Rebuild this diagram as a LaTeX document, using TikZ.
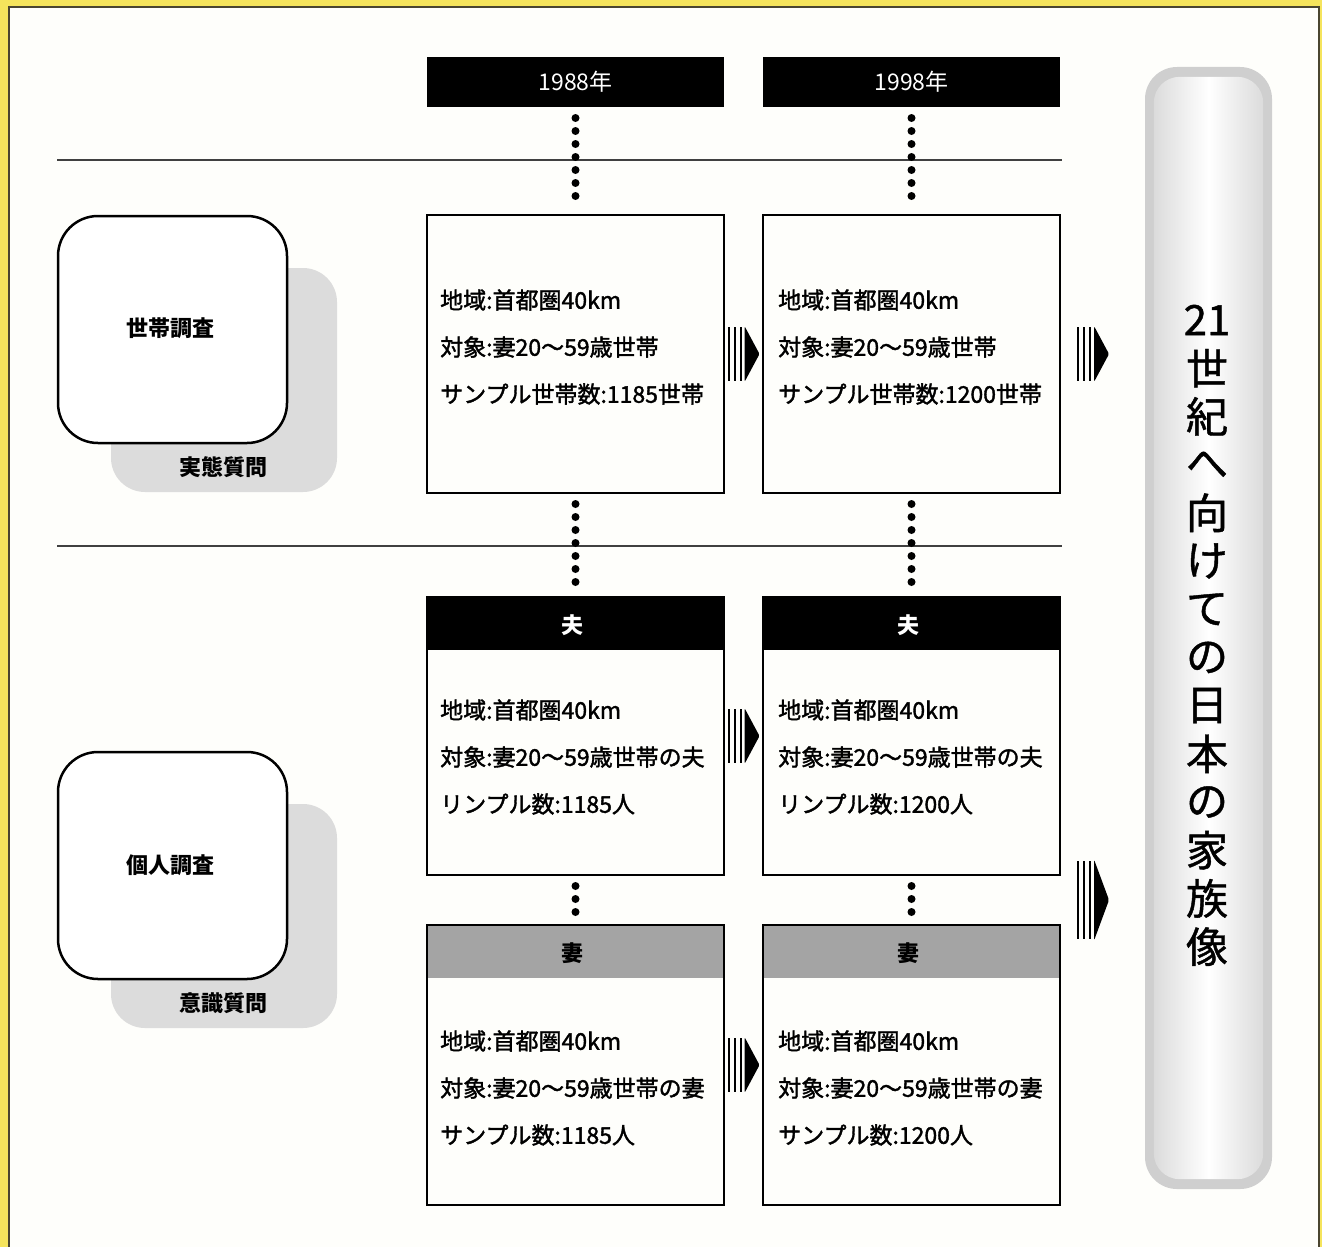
\documentclass[tikz,border=0pt]{standalone}
\usepackage{fontspec}
\setmainfont{Noto Sans CJK JP}
\newfontfamily\jpmid[FakeBold=1.6]{Noto Sans CJK JP}
\newfontfamily\jptitle[FakeBold=1.0]{Noto Sans CJK JP}
\usetikzlibrary{calc}
\definecolor{frameyellow}{HTML}{F5E45C}
\definecolor{framedark}{HTML}{4A4530}
\definecolor{paper}{HTML}{FEFEFB}
\definecolor{shadowgray}{HTML}{DCDCDC}
\definecolor{wifegray}{HTML}{A4A4A4}
\begin{document}
\begin{tikzpicture}[x=1pt,y=-1pt,
  databox/.style={draw=black, line width=2.5pt, minimum width=297pt, minimum height=278pt, inner sep=0pt, outer sep=0pt},
  yearbox/.style={fill=black, text=white, minimum width=297pt, minimum height=50pt, inner sep=0pt, outer sep=0pt, font=\fontsize{23}{27}\selectfont},
  bodytext/.style={anchor=west, align=left, inner sep=0pt, font=\fontsize{23}{47}\selectfont\jpmid},
  catbox/.style={draw=black, line width=2.5pt, fill=white, rounded corners=40pt, minimum width=229pt, minimum height=227pt, inner sep=0pt},
  shadowbox/.style={fill=shadowgray, rounded corners=34pt, minimum width=226pt, minimum height=224pt, inner sep=0pt},
  lbl/.style={inner sep=0pt, font=\fontsize{22}{26}\selectfont\bfseries},
  dotline/.style={line width=8pt, line cap=round, dash pattern=on 0pt off 13pt, shorten <=11pt, shorten >=11pt},
  rule/.style={line width=1.3pt, draw=black!75},
  titlechar/.style={inner sep=0pt, font=\fontsize{42}{46}\selectfont\jptitle},
  flowarrow/.pic={
    \foreach \xx in {-15,-9,-3} \fill (\xx-1,-27) rectangle (\xx+1,27);
    \fill[rounded corners=1.5pt] (1,-28) -- (16,0) -- (1,28) -- cycle;
  }
]
% frame and background
\useasboundingbox (0,0) rectangle (1322,1247);
\fill[frameyellow] (0,0) rectangle (1322,1247);
\draw[framedark, line width=2pt, fill=paper] (9,7) rectangle (1319,1262);

% horizontal rules
\draw[rule] (57,160) -- (1062,160);
\draw[rule] (57,546) -- (1062,546);

% year headers
\node[yearbox] (y1) at (575.5,82) {1988年};
\node[yearbox] (y2) at (911.5,82) {1998年};

% household survey boxes
\node[databox] (b1) at (575.5,354) {};
\node[databox] (b2) at (911.5,354) {};
\node[bodytext] (t1) at ($(b1.west)+(13,-7)$) {地域:首都圏40km\\対象:妻20〜59歳世帯\\サンプル世帯数:1185世帯};
\node[bodytext] (t2) at ($(b2.west)+(15,-7)$) {地域:首都圏40km\\対象:妻20〜59歳世帯\\サンプル世帯数:1200世帯};

% husband boxes
\node[databox] (h1) at (575.5,736) {};
\node[databox] (h2) at (911.5,736) {};
\fill[black] (h1.north west) rectangle ($(h1.north east)+(0,53)$);
\fill[black] (h2.north west) rectangle ($(h2.north east)+(0,53)$);
\node[lbl, text=white] (hl1) at ($(h1.north)+(-3,28)$) {夫};
\node[lbl, text=white] (hl2) at ($(h2.north)+(-3,28)$) {夫};
\node[bodytext] (th1) at ($(h1.west)+(13,21)$) {地域:首都圏40km\\対象:妻20〜59歳世帯の夫\\リンプル数:1185人};
\node[bodytext] (th2) at ($(h2.west)+(15,21)$) {地域:首都圏40km\\対象:妻20〜59歳世帯の夫\\リンプル数:1200人};

% wife boxes
\node[databox, minimum height=280pt] (w1) at (575.5,1065) {};
\node[databox, minimum height=280pt] (w2) at (911.5,1065) {};
\fill[wifegray] (w1.north west) rectangle ($(w1.north east)+(0,53)$);
\fill[wifegray] (w2.north west) rectangle ($(w2.north east)+(0,53)$);
\draw[line width=2.5pt] (w1.north west) rectangle (w1.south east);
\draw[line width=2.5pt] (w2.north west) rectangle (w2.south east);
\node[lbl] (wl1) at ($(w1.north)+(-3,28)$) {妻};
\node[lbl] (wl2) at ($(w2.north)+(-3,28)$) {妻};
\node[bodytext] (tw1) at ($(w1.west)+(13,23)$) {地域:首都圏40km\\対象:妻20〜59歳世帯の妻\\サンプル数:1185人};
\node[bodytext] (tw2) at ($(w2.west)+(15,23)$) {地域:首都圏40km\\対象:妻20〜59歳世帯の妻\\サンプル数:1200人};

% dotted connectors
\draw[dotline] (y1.south) -- (b1.north);
\draw[dotline] (y2.south) -- (b2.north);
\draw[dotline] (b1.south) -- (h1.north);
\draw[dotline] (b2.south) -- (h2.north);
\draw[dotline] (h1.south) -- (w1.north);
\draw[dotline] (h2.south) -- (w2.north);

% arrows between columns
\path ($(b1.east)!0.5!(b2.west)$) pic {flowarrow};
\path ($(h1.east)!0.5!(h2.west)$) pic {flowarrow};
\path ($(w1.east)!0.5!(w2.west)$) pic {flowarrow};

% arrows to the banner
\path ($(b2.east)+(33,0)$) pic {flowarrow};
\path ($(h2.south east)+(33,25)$) pic[yscale=1.45] {flowarrow};

% left category boxes
\node[shadowbox] (s1) at (224,380) {};
\node[catbox] (c1) at (172.5,329.5) {};
\node[lbl] (c1t) at (170,328) {世帯調査};
\node[lbl] (s1t) at (223,467) {実態質問};

\node[shadowbox] (s2) at (224,916) {};
\node[catbox] (c2) at (172.5,865.5) {};
\node[lbl] (c2t) at (170,865) {個人調査};
\node[lbl] (s2t) at (223,1003) {意識質問};

% banner on the right
\node[fill=gray!38, rounded corners=32pt, minimum width=127pt, minimum height=1122pt, inner sep=0pt] (banner) at (1208.5,628) {};
\shade[rounded corners=26pt, left color=gray!28, right color=gray!28, middle color=white]
  ($(banner.north west)+(9,10)$) rectangle ($(banner.south east)+(-9,-10)$);
\foreach \c [count=\i] in {21,世,紀,へ,向,け,て,の,日,本,の,家,族,像}
  \node[titlechar] (title\i) at (1207,{320+(\i-1)*48.2}) {\c};
\end{tikzpicture}
\end{document}
